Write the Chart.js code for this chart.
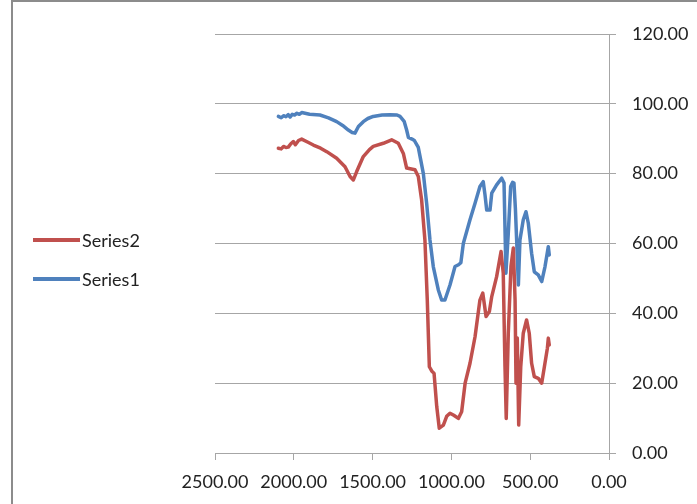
<!DOCTYPE html>
<html>
<head>
<meta charset="utf-8">
<script src="https://cdn.jsdelivr.net/npm/chart.js@4"></script>
<style>
  body { margin: 0; overflow: hidden; background: #fff; }
  #wrap { position: relative; width: 697px; height: 504px; }
  #frame { position: absolute; left: 11px; top: 0px; width: 760px; height: 600px; border: 2px solid #8c8c8c; box-sizing: border-box; }
  #legend { position: absolute; left: 33px; top: 220px; font-family: Lato, sans-serif; font-size: 18px; color: #222; }
  #legend div { display: flex; align-items: center; height: 39px; }
  #legend span.swatch { display: inline-block; width: 47px; height: 4px; margin-right: 2px; }
</style>
</head>
<body>
<div id="wrap">
  <div id="frame"></div>
  <canvas id="myChart" width="697" height="504"></canvas>
  <div id="legend"></div>
</div>
<script>
// tick values
const xTicks = [2500, 2000, 1500, 1000, 500, 0];
const yTicks = [0, 20, 40, 60, 80, 100, 120];

// Series1 (blue)
const series1X = [2098, 2080, 2065, 2050, 2035, 2024, 2010, 1995, 1980, 1965, 1950, 1900, 1834, 1780, 1728, 1690, 1654, 1630, 1612, 1590,
  1559, 1530, 1496, 1440, 1390, 1345, 1326, 1300, 1284, 1273, 1250, 1235, 1210, 1195, 1178, 1157, 1136, 1115, 1083, 1062,
  1041, 1009, 977, 955, 940, 924, 882, 850, 819, 798, 787, 776, 755, 744, 713, 681, 666, 654, 639, 624,
  612, 603, 594, 586, 575, 565, 544, 527, 512, 491, 474, 449, 427, 406, 385, 379];
const series1Y = [96.4, 96.0, 96.6, 96.3, 96.9, 96.2, 97.0, 96.8, 97.3, 97.0, 97.5, 97.0, 96.8, 96.0, 94.9, 93.8, 92.5, 91.8, 91.6, 93.5,
  94.9, 95.8, 96.4, 96.8, 96.9, 96.8, 96.4, 95.0, 92.5, 90.4, 89.9, 89.5, 87.5, 84.0, 80.0, 71.5, 61.0, 53.4, 46.7, 43.8,
  43.8, 48.1, 53.4, 53.9, 54.5, 60.1, 66.8, 71.5, 76.3, 77.7, 74.0, 69.6, 69.6, 74.4, 76.8, 78.7, 77.3, 51.5, 63.0, 76.3,
  77.5, 77.3, 70.0, 61.0, 48.1, 61.0, 66.8, 69.1, 65.8, 57.2, 51.9, 51.0, 49.1, 53.4, 59.1, 56.7];

// Series2 (red)
const series2X = [2098, 2080, 2065, 2050, 2035, 2020, 2003, 1990, 1970, 1950, 1910, 1876, 1830, 1791, 1728, 1675, 1643, 1622, 1601, 1559,
  1520, 1496, 1432, 1379, 1337, 1305, 1284, 1231, 1210, 1189, 1168, 1153, 1140, 1125, 1110, 1093, 1077, 1051, 1030, 1009,
  985, 956, 935, 913, 882, 850, 819, 801, 780, 759, 744, 713, 685, 671, 660, 652, 639, 622, 607, 596,
  590, 582, 573, 560, 544, 523, 506, 491, 474, 449, 427, 410, 391, 385, 379];
const series2Y = [87.3, 87.1, 87.8, 87.5, 87.6, 88.5, 89.2, 88.3, 89.5, 89.9, 89.0, 88.2, 87.3, 86.3, 84.4, 82.0, 79.2, 78.2, 80.6, 84.9,
  86.9, 87.8, 88.7, 89.7, 88.7, 85.8, 81.6, 81.1, 79.2, 72.5, 61.0, 43.8, 24.7, 23.5, 22.8, 13.3, 7.1, 8.0, 10.5, 11.4,
  10.8, 9.9, 11.8, 20.0, 25.7, 33.3, 43.8, 45.8, 39.1, 40.5, 44.8, 50.5, 57.7, 51.5, 24.7, 9.9, 34.3, 53.4, 58.7, 43.8,
  20.0, 32.9, 8.0, 24.7, 34.3, 38.1, 34.3, 25.7, 21.9, 21.4, 20.0, 24.7, 30.0, 32.9, 30.9];

const toPoints = (xs, ys) => xs.map((x, i) => ({ x: x, y: ys[i] }));
const gridColor = '#a6a6a6';
const tickFont = { family: 'Lato, sans-serif', size: 18 };

const ctx = document.getElementById('myChart').getContext('2d');
const myChart = new Chart(ctx, {
    type: 'scatter',
    data: {
        datasets: [{
            label: 'Series2',
            data: toPoints(series2X, series2Y),
            borderColor: '#c0504d',
            backgroundColor: '#c0504d',
            borderWidth: 3.5,
            borderJoinStyle: 'round',
            borderCapStyle: 'round',
            showLine: true,
            pointRadius: 0,
            tension: 0
        }, {
            label: 'Series1',
            data: toPoints(series1X, series1Y),
            borderColor: '#4f81bd',
            backgroundColor: '#4f81bd',
            borderWidth: 3.5,
            borderJoinStyle: 'round',
            borderCapStyle: 'round',
            showLine: true,
            pointRadius: 0,
            tension: 0
        }]
    },
    options: {
        responsive: false,
        animation: false,
        layout: { padding: { left: 215, top: 34, right: 0, bottom: 0 } },
        plugins: {
            legend: { display: false },
            tooltip: { enabled: false }
        },
        scales: {
            x: {
                type: 'linear',
                position: 'bottom',
                reverse: true,
                min: Math.min(...xTicks),
                max: Math.max(...xTicks),
                afterBuildTicks: s => { s.ticks = xTicks.map(v => ({ value: v })); },
                afterFit: s => { s.height = 51; },
                grid: { drawOnChartArea: false, drawTicks: true, tickLength: 7, color: gridColor },
                border: { display: true, color: gridColor },
                ticks: {
                    font: tickFont,
                    color: '#222',
                    padding: 11,
                    maxRotation: 0,
                    callback: v => v.toFixed(2)
                }
            },
            y: {
                position: 'right',
                min: Math.min(...yTicks),
                max: Math.max(...yTicks),
                afterBuildTicks: s => { s.ticks = yTicks.map(v => ({ value: v })); },
                afterFit: s => { s.width = 88; },
                grid: { color: gridColor, tickLength: 7 },
                border: { display: true, color: gridColor },
                ticks: {
                    font: tickFont,
                    color: '#222',
                    padding: 16,
                    callback: v => v.toFixed(2)
                }
            }
        }
    }
});

// legend built from the datasets
const legendEl = document.getElementById('legend');
myChart.data.datasets.forEach(ds => {
    const row = document.createElement('div');
    row.innerHTML = '<span class="swatch" style="background:' + ds.borderColor + '"></span>' + ds.label;
    legendEl.appendChild(row);
});
</script>
</body>
</html>
